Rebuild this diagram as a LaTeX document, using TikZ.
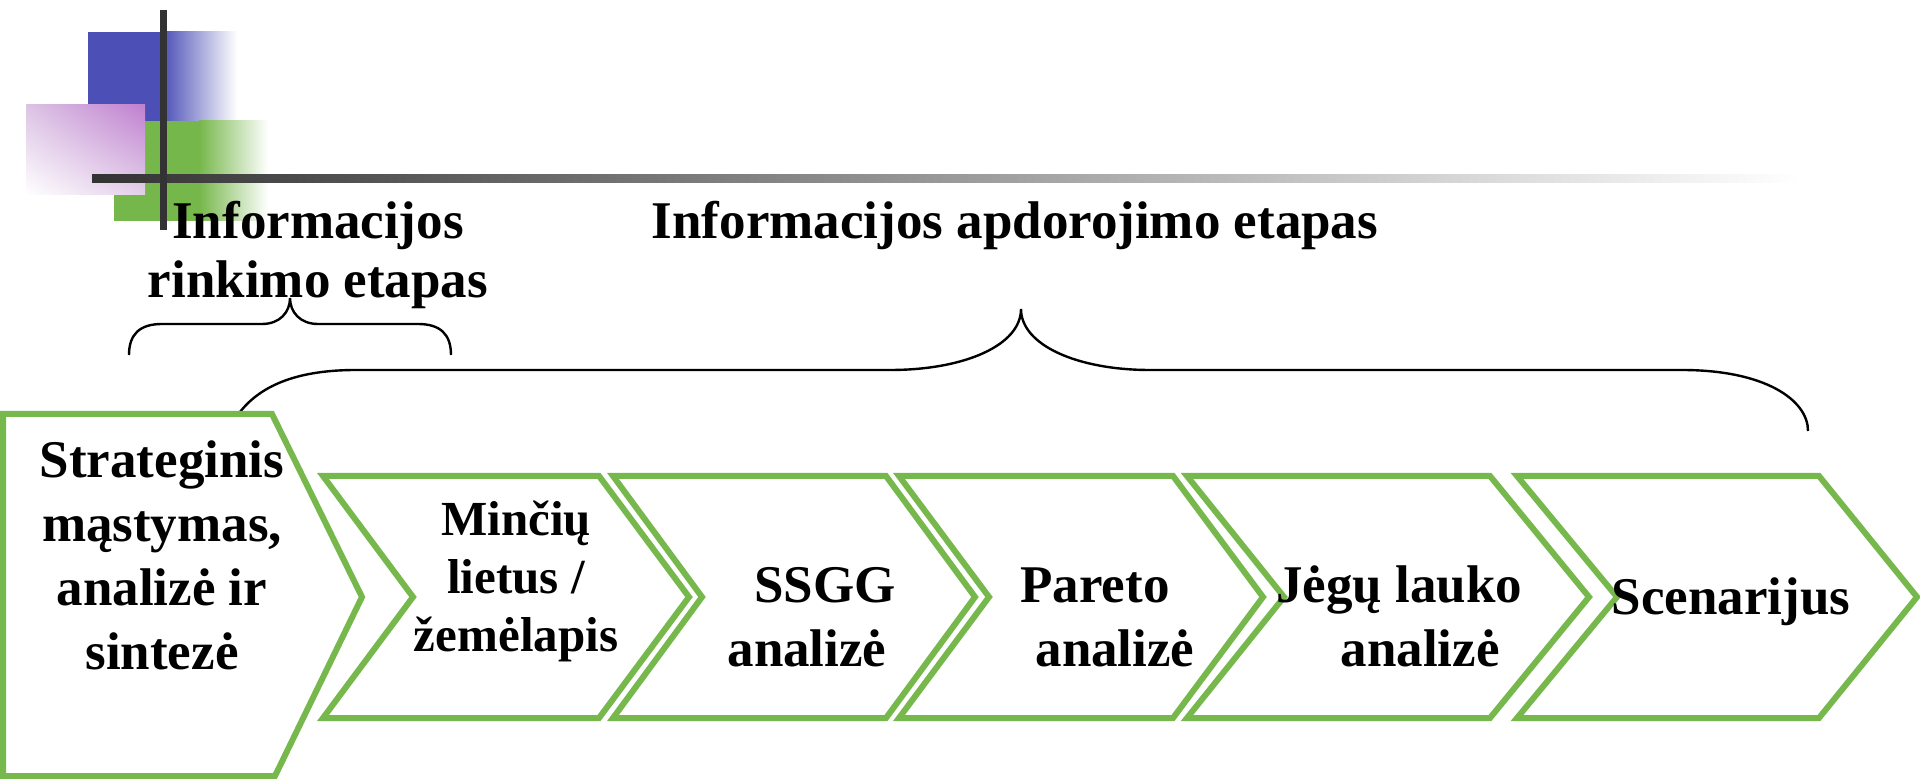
\documentclass[tikz,border=0pt]{standalone}
\usepackage{fontspec}
\setmainfont{Liberation Serif}
\usetikzlibrary{shadings}
\definecolor{chevgreen}{RGB}{119,184,76}
\definecolor{decoblue}{RGB}{76,80,182}
\definecolor{decogreen}{RGB}{118,183,75}
\definecolor{decopink}{RGB}{192,128,208}
\definecolor{decopinklight}{RGB}{220,196,228}
\definecolor{decodark}{RGB}{51,51,51}
\begin{document}
\begin{tikzpicture}[x=0.5pt,y=-0.5pt,
  stage/.style={draw=chevgreen, line width=3pt, line join=miter, fill=white},
  lbl/.style={anchor=base, inner sep=0pt, font=\bfseries\fontsize{26.5pt}{32pt}\selectfont},
  bracepath/.style={draw=black, line width=1.2pt}]
\useasboundingbox (0,0) rectangle (1920,779);
% decoration
\fill[decoblue] (88,32) rectangle (163,121);
\shade[left color=decoblue, right color=white] (162,32) rectangle (237,121);
\fill[decogreen] (114,121) rectangle (200,221);
\shade[left color=decogreen, right color=white] (199,121) rectangle (268,221);
\shade[upper right=decopink, upper left=decopinklight, lower right=decopinklight!80!white, lower left=white] (26,105) rectangle (145,195);
\shade[left color=decodark, right color=white] (92,175) rectangle (1800,183);
\fill[decodark] (160,10) rectangle (167,230);
% headings
\node[lbl, font=\bfseries\fontsize{26.5pt}{29.5pt}\selectfont] (collect) at (318,239) {\begin{tabular}[t]{@{}c@{}}Informacijos\\rinkimo etapas\end{tabular}};
\node[lbl] (process) at (1015,239) {Informacijos apdorojimo etapas};
% braces
\draw[bracepath] (129,355) .. controls (129,334) and (140,324) .. (162,324) -- (262,324)
  .. controls (280,324) and (290,312) .. (290,298) .. controls (290,312) and (300,324) .. (318,324)
  -- (418,324) .. controls (440,324) and (451,334) .. (451,355);
\draw[bracepath] (240,412) .. controls (262,384) and (300,370) .. (356,370) -- (890,370)
  .. controls (965,370) and (1021,345) .. (1021,309) .. controls (1021,345) and (1077,370) .. (1150,370)
  -- (1682,370) .. controls (1765,370) and (1808,400) .. (1808,431);
% stages
\draw[stage] (3,414) -- (272,414) -- (362,597) -- (275,776) -- (3,776) -- cycle;
\draw[stage] (323,476) -- (599,476) -- (689,597) -- (599,718) -- (323,718) -- (413,597) -- cycle;
\draw[stage] (613,476) -- (886,476) -- (975,597) -- (886,718) -- (613,718) -- (702,597) -- cycle;
\draw[stage] (899,476) -- (1173,476) -- (1263,597) -- (1173,718) -- (899,718) -- (989,597) -- cycle;
\draw[stage] (1187,476) -- (1490,476) -- (1589,597) -- (1490,718) -- (1187,718) -- (1284,597) -- cycle;
\draw[stage] (1517,476) -- (1819,476) -- (1917,597) -- (1819,718) -- (1517,718) -- (1617,597) -- cycle;
% stage labels
\node[lbl] (s1) at (162,478) {\begin{tabular}[t]{@{}c@{}}Strateginis\\mąstymas,\\analizė ir\\sintezė\end{tabular}};
\node[lbl, font=\bfseries\fontsize{24.5pt}{29pt}\selectfont] (s2) at (516,536) {\begin{tabular}[t]{@{}c@{}}Minčių\\lietus /\\žemėlapis\end{tabular}};
\node[lbl] (s3) at (807,603) {\begin{tabular}[t]{@{}c@{}}\hspace*{18pt}SSGG\\analizė\end{tabular}};
\node[lbl] (s4) at (1115,603) {\begin{tabular}[t]{@{}c@{}}Pareto\hspace*{20pt}\\analizė\end{tabular}};
\node[lbl] (s5) at (1420,603) {\begin{tabular}[t]{@{}c@{}}Jėgų lauko\hspace*{21pt}\\analizė\end{tabular}};
\node[lbl] (s6) at (1731,615) {Scenarijus};
\end{tikzpicture}
\end{document}
